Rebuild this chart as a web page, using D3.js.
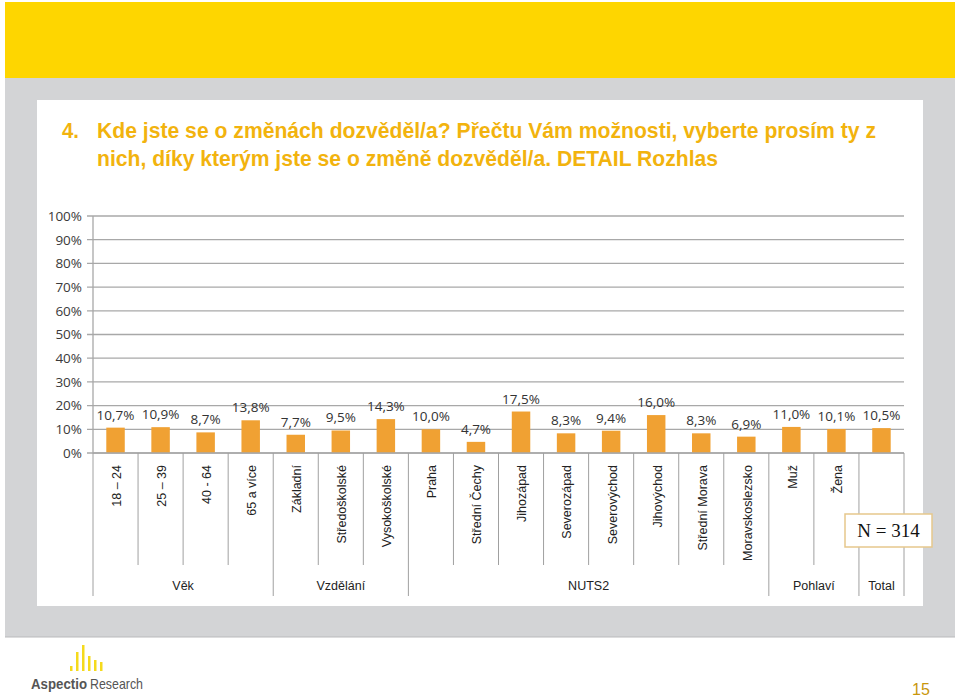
<!DOCTYPE html>
<html><head><meta charset="utf-8">
<script src="https://cdn.jsdelivr.net/npm/d3@7"></script>
<style>html,body{margin:0;padding:0;background:#fff}svg{display:block}</style>
</head><body>
<svg id="c" width="960" height="698"></svg>
<script>
const categories = ["18 – 24","25 – 39","40 - 64","65 a více","Základní","Středoškolské","Vysokoškolské","Praha","Střední Čechy","Jihozápad","Severozápad","Severovýchod","Jihovýchod","Střední Morava","Moravskoslezsko","Muž","Žena",""];
const values = [10.7,10.9,8.7,13.8,7.7,9.5,14.3,10.0,4.7,17.5,8.3,9.4,16.0,8.3,6.9,11.0,10.1,10.5];
const groupNames = ["Věk","Vzdělání","NUTS2","Pohlaví","Total"];
const groupSizes = [4,3,8,2,1];
const yTicks = [0,10,20,30,40,50,60,70,80,90,100];
const titleLines = ["Kde jste se o změnách dozvěděl/a? Přečtu Vám možnosti, vyberte prosím ty z","nich, díky kterým jste se o změně dozvěděl/a. DETAIL Rozhlas"];
const nLabel = "N = 314";

const svg = d3.select("#c");
svg.append("rect").attr("x",0).attr("y",0).attr("width",960).attr("height",698).attr("fill","#fff");
svg.append("rect").attr("x",5).attr("y",2).attr("width",950).attr("height",76).attr("fill","#FED600");
svg.append("rect").attr("x",5).attr("y",78).attr("width",950).attr("height",559).attr("fill","#D3D4D6");
svg.append("line").attr("x1",5).attr("x2",955).attr("y1",637).attr("y2",637).attr("stroke","#B9BABC").attr("stroke-width",1);
svg.append("rect").attr("x",37).attr("y",100).attr("width",886).attr("height",506).attr("fill","#fff");

// title
const tc = "#F2B30E";
const tFont = "'Liberation Sans',Arial,sans-serif";
svg.append("text").attr("x",62).attr("y",138).attr("fill",tc)
  .style("font-family",tFont).style("font-weight","bold").style("font-size","22px")
  .attr("textLength",17).attr("lengthAdjust","spacingAndGlyphs").text("4.");
titleLines.forEach((t,i)=>{
  svg.append("text").attr("x",97).attr("y",138+i*28).attr("fill",tc)
    .style("font-family",tFont).style("font-weight","bold").style("font-size","22px")
    .attr("textLength",i===0?779:621).attr("lengthAdjust","spacingAndGlyphs").text(t);
});

// scales
const x0 = 93, x1 = 904, yTop = 216, yBot = 453;
const x = d3.scaleBand().domain(d3.range(categories.length)).range([x0,x1]).paddingInner(0.59).paddingOuter(0.295);
const y = d3.scaleLinear().domain([0,100]).range([yBot,yTop]);
const step = x.step();
const numFont = "'Open Sans','DejaVu Sans',sans-serif";

// gridlines
const g = svg.append("g");
g.selectAll("line.grid").data(yTicks).join("line")
  .attr("x1",x0-6).attr("x2",x1).attr("y1",d=>y(d)).attr("y2",d=>y(d))
  .attr("stroke","#A8A8A8").attr("stroke-width",1.3);
g.append("line").attr("x1",x0).attr("x2",x0).attr("y1",yTop).attr("y2",yBot).attr("stroke","#A8A8A8").attr("stroke-width",1.3);

// y axis labels
const yAxis = d3.axisLeft(y).tickValues(yTicks).tickFormat(d=>d+"%").tickSize(0).tickPadding(11);
const ya = svg.append("g").attr("transform",`translate(${x0},0)`).call(yAxis);
ya.select(".domain").remove();
ya.selectAll("text").style("font-family",numFont).style("font-size","13.5px").attr("fill","#3a3a3a");

// bars
svg.append("g").selectAll("rect").data(values).join("rect")
  .attr("x",(d,i)=>x(i)).attr("width",x.bandwidth())
  .attr("y",d=>y(d)).attr("height",d=>yBot-y(d)).attr("fill","#F0A133");

// value labels
svg.append("g").selectAll("text").data(values).join("text")
  .attr("x",(d,i)=>x(i)+x.bandwidth()/2).attr("y",d=>y(d)-8)
  .attr("text-anchor","middle").attr("fill","#333")
  .style("font-family",numFont).style("font-size","13.5px")
  .text(d=>d.toFixed(1).replace(".",",")+"%");

// x axis line
svg.append("line").attr("x1",x0).attr("x2",x1).attr("y1",yBot).attr("y2",yBot).attr("stroke","#A8A8A8").attr("stroke-width",1.3);

// separators
const groupStarts = [0];
groupSizes.forEach((s,i)=>groupStarts.push(groupStarts[i]+s));
const sepG = svg.append("g");
for(let k=0;k<=categories.length;k++){
  const isGroup = groupStarts.includes(k);
  sepG.append("line").attr("x1",x0+k*step).attr("x2",x0+k*step)
    .attr("y1",yBot).attr("y2",isGroup?596:565)
    .attr("stroke","#A0A0A0").attr("stroke-width",1);
}

// category labels
svg.append("g").selectAll("text").data(categories).join("text")
  .attr("transform",(d,i)=>`translate(${x(i)+x.bandwidth()/2+1},465) rotate(-90)`)
  .attr("text-anchor","end").attr("dy","0.35em").attr("fill","#222")
  .style("font-family","'Liberation Sans',Arial,sans-serif").style("font-size","12.5px")
  .text(d=>d);

// group labels
svg.append("g").selectAll("text").data(groupNames).join("text")
  .attr("x",(d,i)=>x0+(groupStarts[i]+groupSizes[i]/2)*step).attr("y",590)
  .attr("text-anchor","middle").attr("fill","#222")
  .style("font-family","'Liberation Sans',Arial,sans-serif").style("font-size","12.5px")
  .text(d=>d);

// N box
svg.append("rect").attr("x",845).attr("y",514).attr("width",87).attr("height",33)
  .attr("fill","#fff").attr("stroke","#E6C78C").attr("stroke-width",1.5);
svg.append("text").attr("x",888.5).attr("y",537).attr("text-anchor","middle").attr("fill","#111")
  .style("font-family","'Liberation Serif','Times New Roman',serif").style("font-size","19px").text(nLabel);

// logo
const logoBars = [[70,666],[76,652],[82,645],[88,656],[94,660],[100,662]];
svg.append("g").selectAll("rect").data(logoBars).join("rect")
  .attr("x",d=>d[0]).attr("y",d=>d[1]).attr("width",2.5).attr("height",d=>671-d[1]).attr("fill","#F5DA1C");
svg.append("text").attr("x",31).attr("y",689).attr("fill","#555")
  .style("font-family","'Liberation Sans',Arial,sans-serif").style("font-size","15px").style("font-weight","bold")
  .attr("textLength",56).attr("lengthAdjust","spacingAndGlyphs").text("Aspectio");
svg.append("text").attr("x",90).attr("y",689).attr("fill","#555")
  .style("font-family","'Liberation Sans',Arial,sans-serif").style("font-size","15px")
  .attr("textLength",53).attr("lengthAdjust","spacingAndGlyphs").text("Research");

svg.append("text").attr("x",921).attr("y",695).attr("text-anchor","middle").attr("fill","#C8960C")
  .style("font-family","'Liberation Sans',Arial,sans-serif").style("font-size","16px").text("15");
</script>
</body></html>
